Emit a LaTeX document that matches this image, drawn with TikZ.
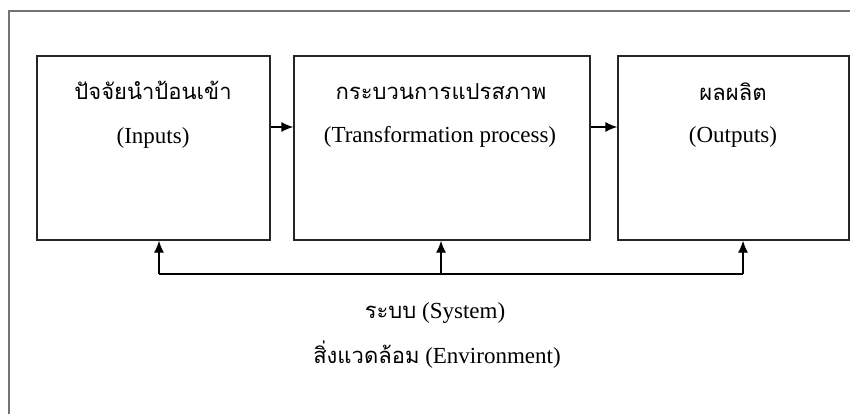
\documentclass[tikz,border=0pt]{standalone}
\usepackage{fontspec}
\setmainfont{Liberation Serif}
\newfontfamily\thaifont[Script=Thai]{Loma}
\usetikzlibrary{arrows.meta}
\tikzset{
  blk/.style={draw=black!85, line width=1.3pt, rectangle, minimum height=184pt, inner sep=0pt},
  lbl/.style={inner sep=0pt, font=\fontsize{23}{26}\selectfont},
  thl/.style={inner sep=0pt, font=\thaifont\fontsize{22}{26}\selectfont},
  arr/.style={line width=1.3pt, -{Latex[length=12pt,width=10pt]}},
  ln/.style={line width=1.3pt}
}
\begin{document}
\begin{tikzpicture}[x=1pt,y=-1pt]
\useasboundingbox (0,0) rectangle (850,414);
\fill[white] (0,0) rectangle (850,414);
\draw[black!55, line width=1.8pt] (9,414) -- (9,11) -- (850,11);
% boxes
\node[blk, minimum width=233pt] (b1) at (153.5,148) {};
\node[blk, minimum width=296pt] (b2) at (442,148) {};
\node[blk, minimum width=231pt] (b3) at (733.5,148) {};
% texts
\node[thl] (t1) at (153,90) {ปัจจัยนำป้อนเข้า};
\node[lbl] (e1) at (153,138) {(Inputs)};
\node[thl] (t2) at (441,92) {กระบวนการแปรสภาพ};
\node[lbl] (e2) at (440,137) {(Transformation process)};
\node[thl] (t3) at (733,92) {ผลผลิต};
\node[lbl] (e3) at (733,137) {(Outputs)};
% horizontal arrows
\draw[arr] (b1.east |- 0,127) -- (b2.west |- 0,127);
\draw[arr] (b2.east |- 0,127) -- (b3.west |- 0,127);
% feedback lines
\coordinate (j1) at (159,274);
\coordinate (j2) at (441,274);
\coordinate (j3) at (743,274);
\draw[ln] (j1) -- (j3);
\draw[arr] (j1) -- (j1 |- b1.south);
\draw[arr] (j2) -- (j2 |- b2.south);
\draw[arr] (j3) -- (j3 |- b3.south);
% bottom texts
\node[lbl] (sys) at (435,313) {{\thaifont\fontsize{22}{26}\selectfont ระบบ} (System)};
\node[lbl] (env) at (437,355) {{\thaifont\fontsize{22}{26}\selectfont สิ่งแวดล้อม} (Environment)};
\end{tikzpicture}
\end{document}
